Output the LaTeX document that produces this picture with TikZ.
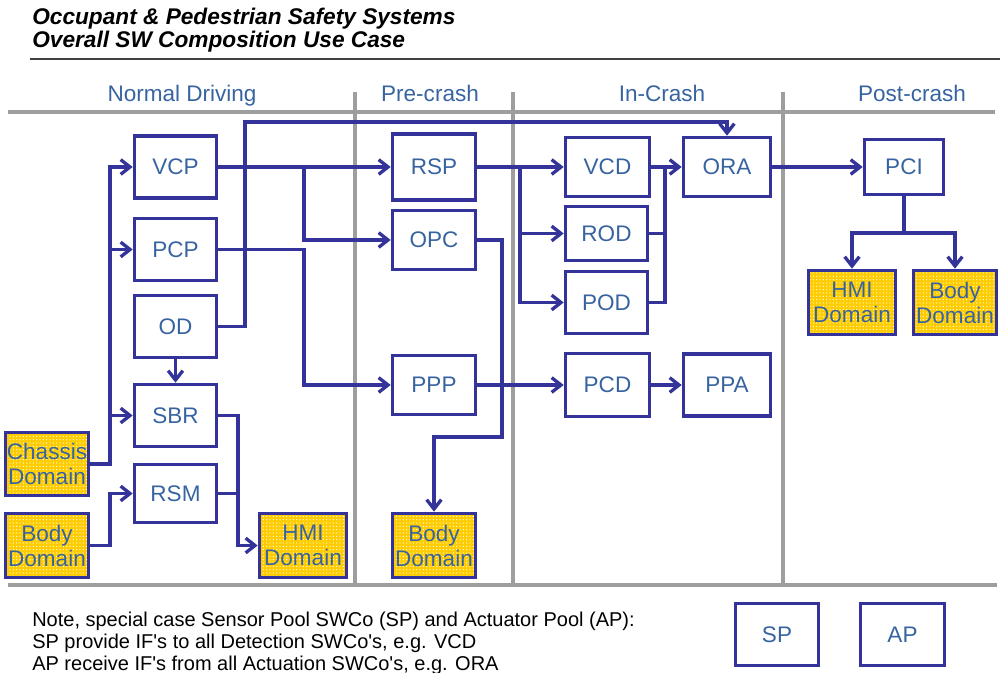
\documentclass[tikz,border=0pt]{standalone}
\usepackage{fontspec}
\setmainfont{Liberation Sans}
\usetikzlibrary{arrows.meta,patterns.meta}

\definecolor{lineblue}{RGB}{51,51,153}
\definecolor{txtblue}{RGB}{55,100,160}
\definecolor{rulegray}{RGB}{158,158,158}
\definecolor{domyellow}{RGB}{255,204,0}

\newcommand\boxfont{\fontsize{16.9}{18.8}\selectfont}
\newcommand\notefont{\fontsize{15}{16.5}\selectfont}

\begin{document}
\begin{tikzpicture}[x=0.75pt,y=-0.75pt,
  sz/.style 2 args={minimum width=#1*0.75pt, minimum height=#2*0.75pt},
  box/.style={draw=lineblue, line width=2.7pt, text=txtblue, font=\boxfont,
    align=center, inner sep=0pt},
  dombox/.style={box, preaction={fill=domyellow},
    preaction={pattern={Dots[distance=2.5pt,radius=0.45pt]}, pattern color=white}},
  conn/.style={draw=lineblue, line width=2.5pt},
  arr/.style={conn, -{Straight Barb[length=7pt,width=11pt]}},
  phasetitle/.style={text=txtblue, font=\boxfont, anchor=base},
  phaseline/.style={draw=rulegray, line width=2.5pt},
]
\useasboundingbox (0,0) rectangle (1000,673);

% ---- title ----
\node[anchor=base west, font=\fontsize{17}{18}\selectfont\bfseries\itshape, inner sep=0pt]
  (title1) at (32,25) {Occupant \& Pedestrian Safety Systems};
\node[anchor=base west, font=\fontsize{17}{18}\selectfont\bfseries\itshape, inner sep=0pt]
  (title2) at (32,48) {Overall SW Composition Use Case};
\draw[black!75, line width=0.9pt] (30,59) -- (1000,59);

% ---- phase grid ----
\draw[phaseline] (8,112) -- (995,112);
\draw[phaseline] (8,585) -- (997,585);
\draw[phaseline] (355,92) -- (355,585);
\draw[phaseline] (513,92) -- (513,585);
\draw[phaseline] (783,92) -- (783,585);

\node[phasetitle] (hNormal) at (182,102) {Normal Driving};
\node[phasetitle] (hPre)    at (430,102) {Pre-crash};
\node[phasetitle] (hIn)     at (662,102) {In-Crash};
\node[phasetitle] (hPost)   at (912,102) {Post-crash};

% ---- normal driving ----
\node[box, sz={82}{62}] (vcp) at (175.5,167) {VCP};
\node[box, sz={82}{62}] (pcp) at (175.5,249.5) {PCP};
\node[box, sz={82}{62}] (od)  at (175.5,326.5) {OD};
\node[box, sz={82}{62}] (sbr) at (175.5,415.5) {SBR};
\node[box, sz={82}{58}] (rsm) at (175.5,493.5) {RSM};
\node[dombox, sz={83}{63}] (chassis) at (47,464) {Chassis\\Domain};
\node[dombox, sz={83}{64}] (bodyL)   at (47,545.5) {Body\\Domain};
\node[dombox, sz={87}{64}] (hmiL)    at (303,545.5) {HMI\\Domain};

% ---- pre-crash ----
\node[box, sz={83}{66}] (rsp) at (434,167) {RSP};
\node[box, sz={83}{59}] (opc) at (434,240) {OPC};
\node[box, sz={83}{59}] (ppp) at (434,385) {PPP};
\node[dombox, sz={83}{64}] (bodyM) at (434,545.5) {Body\\Domain};

% ---- in-crash ----
\node[box, sz={84}{59}] (vcd) at (607.5,167) {VCD};
\node[box, sz={82}{54}] (rod) at (606.5,233.5) {ROD};
\node[box, sz={82}{62}] (pod) at (606.5,302.5) {POD};
\node[box, sz={84}{63}] (pcd) at (607.5,385) {PCD};
\node[box, sz={87}{59}] (ora) at (727,167) {ORA};
\node[box, sz={87}{62}] (ppa) at (727,385) {PPA};

% ---- post-crash ----
\node[box, sz={79}{55}] (pci) at (904,167) {PCI};
\node[dombox, sz={87}{64}] (hmiR)  at (852,302.5) {HMI\\Domain};
\node[dombox, sz={83}{64}] (bodyR) at (955,302.5) {Body\\Domain};

% ---- routing points ----
\coordinate (busL)  at (110,0);
\coordinate (busH)  at (238,0);
\coordinate (odUp)  at (245,122);
\coordinate (brA)   at (304,0);
\coordinate (opcDn) at (502,437);
\coordinate (brB)   at (520,0);
\coordinate (mrg)   at (665,0);
\coordinate (pciDn) at (904,233);

% ---- connectors ----
\draw[arr] (chassis.east) -| (busL |- vcp.west) -- (vcp.west);
\draw[arr] (busL |- pcp.west) -- (pcp.west);
\draw[arr] (busL |- sbr.west) -- (sbr.west);
\draw[arr] (bodyL.east) -| (busL |- rsm.west) -- (rsm.west);
\draw[arr] (od.south) -- (sbr.north);
\draw[arr] (sbr.east) -| (busH |- hmiL.west) -- (hmiL.west);
\draw[conn] (rsm.east) -- (busH |- rsm.east);
\draw[arr] (od.east) -| (odUp) -| (ora.north);
\draw[arr] (vcp.east) -- (rsp.west);
\draw[arr] (brA |- vcp.east) |- (opc.west);
\draw[arr] (pcp.east) -| (brA |- ppp.west) -- (ppp.west);
\draw[arr] (opc.east) -| (opcDn) -| (bodyM.north);
\draw[arr] (rsp.east) -- (vcd.west);
\draw[arr] (brB |- rsp.east) |- (pod.west);
\draw[arr] (brB |- rod.west) -- (rod.west);
\draw[arr] (vcd.east) -- (ora.west);
\draw[conn] (pod.east) -| (mrg |- ora.west);
\draw[conn] (rod.east) -- (mrg |- rod.east);
\draw[arr] (ppp.east) -- (pcd.west);
\draw[arr] (pcd.east) -- (ppa.west);
\draw[arr] (ora.east) -- (pci.west);
\draw[arr] (pci.south) -- (pciDn) -| (hmiR.north);
\draw[arr] (pciDn) -| (bodyR.north);

% ---- note and pool components ----
\node[anchor=base west, inner sep=0pt, font=\notefont] (note1) at (32,626)
  {Note, special case Sensor Pool SWCo (SP) and Actuator Pool (AP):};
\node[anchor=base west, inner sep=0pt, font=\notefont] (note2) at (32,648)
  {SP provide IF\textquotesingle s to all Detection SWCo\textquotesingle s, e.g. VCD};
\node[anchor=base west, inner sep=0pt, font=\notefont] (note3) at (32,670)
  {AP receive IF\textquotesingle s from all Actuation SWCo\textquotesingle s, e.g. ORA};
\node[box, sz={83}{62}] (sp) at (777,634.5) {SP};
\node[box, sz={84}{62}] (ap) at (902.5,634.5) {AP};
\end{tikzpicture}
\end{document}
